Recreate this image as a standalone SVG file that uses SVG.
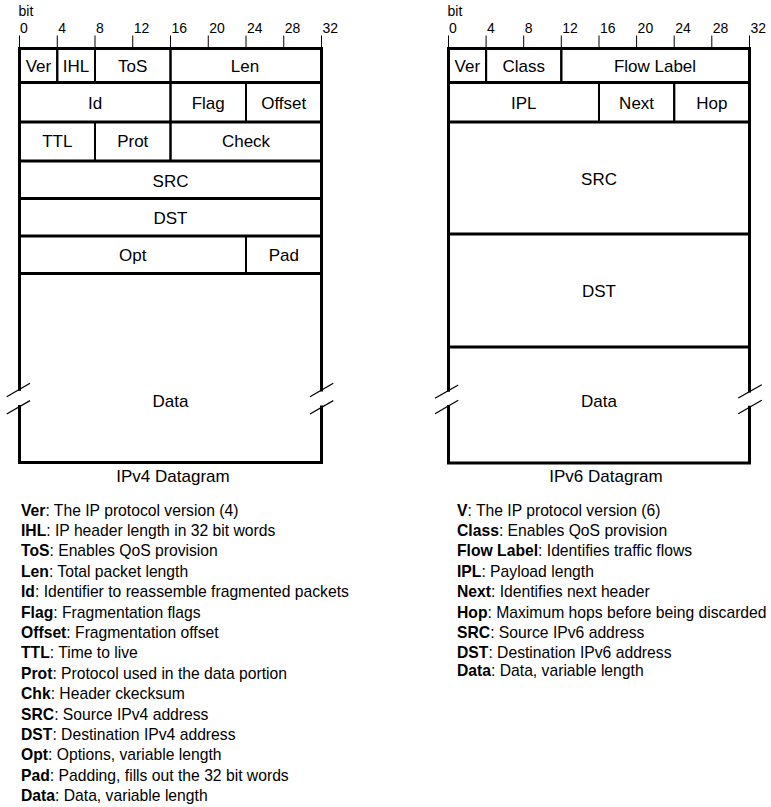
<svg xmlns="http://www.w3.org/2000/svg" width="771" height="807" viewBox="0 0 771 807">
<style>
text{font-family:"Liberation Sans",Arial,sans-serif;fill:#000}
.lbl{font-size:17px;text-anchor:middle}
.tick{font-size:14px}
.cap{font-size:17px;text-anchor:middle}
.leg{font-size:15.7px}
.leg tspan.b{font-weight:bold}
.cell{fill:none;stroke:#000;stroke-width:2}
.frame{fill:none;stroke:#000;stroke-width:3;stroke-linecap:square}
.tk{stroke:#000;stroke-width:1}
.brk{stroke:#000;stroke-width:1.3;fill:none}
</style>
<rect width="771" height="807" fill="#fff"/>

<!-- IPv4 scale -->
<g id="v4-scale">
<text class="tick" x="18.5" y="15.5">bit</text>
<g class="tk">
<line x1="19.5" y1="35.5" x2="19.5" y2="48.5"/><line x1="57.25" y1="35.5" x2="57.25" y2="48.5"/><line x1="95" y1="35.5" x2="95" y2="48.5"/><line x1="132.75" y1="35.5" x2="132.75" y2="48.5"/><line x1="170.5" y1="35.5" x2="170.5" y2="48.5"/><line x1="208.25" y1="35.5" x2="208.25" y2="48.5"/><line x1="246" y1="35.5" x2="246" y2="48.5"/><line x1="283.75" y1="35.5" x2="283.75" y2="48.5"/><line x1="321.5" y1="35.5" x2="321.5" y2="48.5"/>
</g>
<text class="tick" x="20" y="33">0</text><text class="tick" x="58.3" y="33">4</text><text class="tick" x="96" y="33">8</text><text class="tick" x="133.8" y="33">12</text><text class="tick" x="171.5" y="33">16</text><text class="tick" x="209.3" y="33">20</text><text class="tick" x="247" y="33">24</text><text class="tick" x="284.8" y="33">28</text><text class="tick" x="322.5" y="33">32</text>
</g>

<!-- IPv4 fields -->
<g id="v4-ver"><rect class="cell" x="19.5" y="48.5" width="37.75" height="34"/><text class="lbl" x="38.4" y="71.5">Ver</text></g>
<g id="v4-ihl"><rect class="cell" x="57.25" y="48.5" width="37.75" height="34"/><text class="lbl" x="76.1" y="71.5">IHL</text></g>
<g id="v4-tos"><rect class="cell" x="95" y="48.5" width="75.5" height="34"/><text class="lbl" x="132.75" y="71.5">ToS</text></g>
<g id="v4-len"><rect class="cell" x="170.5" y="48.5" width="151" height="34"/><text class="lbl" x="245" y="71.5">Len</text></g>
<g id="v4-id"><rect class="cell" x="19.5" y="82.5" width="151" height="39.5"/><text class="lbl" x="95" y="109">Id</text></g>
<g id="v4-flag"><rect class="cell" x="170.5" y="82.5" width="75.5" height="39.5"/><text class="lbl" x="208.25" y="109">Flag</text></g>
<g id="v4-offset"><rect class="cell" x="246" y="82.5" width="75.5" height="39.5"/><text class="lbl" x="283.75" y="109">Offset</text></g>
<g id="v4-ttl"><rect class="cell" x="19.5" y="122" width="75.5" height="39"/><text class="lbl" x="57.25" y="147">TTL</text></g>
<g id="v4-prot"><rect class="cell" x="95" y="122" width="75.5" height="39"/><text class="lbl" x="132.75" y="147">Prot</text></g>
<g id="v4-check"><rect class="cell" x="170.5" y="122" width="151" height="39"/><text class="lbl" x="246" y="147">Check</text></g>
<g id="v4-src"><rect class="cell" x="19.5" y="161" width="302" height="37.5"/><text class="lbl" x="170.5" y="187">SRC</text></g>
<g id="v4-dst"><rect class="cell" x="19.5" y="198.5" width="302" height="37.5"/><text class="lbl" x="170.5" y="223.5">DST</text></g>
<g id="v4-opt"><rect class="cell" x="19.5" y="236" width="226.5" height="37.5"/><text class="lbl" x="132.75" y="260.5">Opt</text></g>
<g id="v4-pad"><rect class="cell" x="246" y="236" width="75.5" height="37.5"/><text class="lbl" x="283.75" y="260.5">Pad</text></g>
<g id="v4-data">
<text class="lbl" x="170.5" y="406.5">Data</text>
<path class="brk" d="M6.7,396.7 L30,383.3 M6.7,414 L30,400.6 M310,396.7 L333.3,383.3 M310,414 L333.3,400.6"/>
</g>
<g id="v4-frame">
<path class="frame" d="M19.5,389.3 V48.5 H321.5 V390 M321.5,407 V462.5 H19.5 V406.6"/>
<path class="frame" d="M19.5,82.5 H321.5 M19.5,122 H321.5 M19.5,161 H321.5 M19.5,198.5 H321.5 M19.5,236 H321.5 M19.5,273.5 H321.5"/>
</g>
<text class="cap" x="173" y="481.5">IPv4 Datagram</text>

<!-- IPv6 scale -->
<g id="v6-scale">
<text class="tick" x="447.5" y="15.5">bit</text>
<g class="tk">
<line x1="448.5" y1="35.5" x2="448.5" y2="48.5"/><line x1="486.1" y1="35.5" x2="486.1" y2="48.5"/><line x1="523.7" y1="35.5" x2="523.7" y2="48.5"/><line x1="561.3" y1="35.5" x2="561.3" y2="48.5"/><line x1="599" y1="35.5" x2="599" y2="48.5"/><line x1="636.6" y1="35.5" x2="636.6" y2="48.5"/><line x1="674.2" y1="35.5" x2="674.2" y2="48.5"/><line x1="711.8" y1="35.5" x2="711.8" y2="48.5"/><line x1="749.5" y1="35.5" x2="749.5" y2="48.5"/>
</g>
<text class="tick" x="449" y="33">0</text><text class="tick" x="487.1" y="33">4</text><text class="tick" x="524.7" y="33">8</text><text class="tick" x="562.3" y="33">12</text><text class="tick" x="600" y="33">16</text><text class="tick" x="637.6" y="33">20</text><text class="tick" x="675.2" y="33">24</text><text class="tick" x="712.8" y="33">28</text><text class="tick" x="750.5" y="33">32</text>
</g>

<!-- IPv6 fields -->
<g id="v6-ver"><rect class="cell" x="448.5" y="48.5" width="37.6" height="34"/><text class="lbl" x="467.3" y="71.5">Ver</text></g>
<g id="v6-class"><rect class="cell" x="486.1" y="48.5" width="75.2" height="34"/><text class="lbl" x="523.7" y="71.5">Class</text></g>
<g id="v6-flow"><rect class="cell" x="561.3" y="48.5" width="188.2" height="34"/><text class="lbl" x="655" y="71.5">Flow Label</text></g>
<g id="v6-ipl"><rect class="cell" x="448.5" y="82.5" width="150.5" height="39.5"/><text class="lbl" x="523.7" y="109">IPL</text></g>
<g id="v6-next"><rect class="cell" x="599" y="82.5" width="75.2" height="39.5"/><text class="lbl" x="636.6" y="109">Next</text></g>
<g id="v6-hop"><rect class="cell" x="674.2" y="82.5" width="75.3" height="39.5"/><text class="lbl" x="711.8" y="109">Hop</text></g>
<g id="v6-src"><rect class="cell" x="448.5" y="122" width="301" height="112"/><text class="lbl" x="599" y="184.5">SRC</text></g>
<g id="v6-dst"><rect class="cell" x="448.5" y="234" width="301" height="113"/><text class="lbl" x="599" y="296.5">DST</text></g>
<g id="v6-data">
<text class="lbl" x="599" y="406.5">Data</text>
<path class="brk" d="M435,398.3 L458.3,385 M435,413.7 L458.3,400.3 M738.3,398 L761.7,384.7 M738.3,413.7 L761.7,400.3"/>
</g>
<g id="v6-frame">
<path class="frame" d="M448.5,390.3 V48.5 H749.5 V391 M749.5,407.3 V463 H448.5 V406.4"/>
<path class="frame" d="M448.5,82.5 H749.5 M448.5,122 H749.5 M448.5,234 H749.5 M448.5,347 H749.5"/>
</g>
<text class="cap" x="606" y="481.5">IPv6 Datagram</text>

<!-- Legends -->
<g id="v4-legend" class="leg">
<text x="21" y="515.5"><tspan class="b">Ver</tspan>: The IP protocol version (4)</text>
<text x="21" y="535.9"><tspan class="b">IHL</tspan>: IP header length in 32 bit words</text>
<text x="21" y="556.3"><tspan class="b">ToS</tspan>: Enables QoS provision</text>
<text x="21" y="576.7"><tspan class="b">Len</tspan>: Total packet length</text>
<text x="21" y="597.1"><tspan class="b">Id</tspan>: Identifier to reassemble fragmented packets</text>
<text x="21" y="617.5"><tspan class="b">Flag</tspan>: Fragmentation flags</text>
<text x="21" y="637.9"><tspan class="b">Offset</tspan>: Fragmentation offset</text>
<text x="21" y="658.3"><tspan class="b">TTL</tspan>: Time to live</text>
<text x="21" y="678.7"><tspan class="b">Prot</tspan>: Protocol used in the data portion</text>
<text x="21" y="699.1"><tspan class="b">Chk</tspan>: Header ckecksum</text>
<text x="21" y="719.5"><tspan class="b">SRC</tspan>: Source IPv4 address</text>
<text x="21" y="739.9"><tspan class="b">DST</tspan>: Destination IPv4 address</text>
<text x="21" y="760.3"><tspan class="b">Opt</tspan>: Options, variable length</text>
<text x="21" y="780.7"><tspan class="b">Pad</tspan>: Padding, fills out the 32 bit words</text>
<text x="21" y="801.1"><tspan class="b">Data</tspan>: Data, variable length</text>
</g>
<g id="v6-legend" class="leg">
<text x="457" y="515.5"><tspan class="b">V</tspan>: The IP protocol version (6)</text>
<text x="457" y="535.9"><tspan class="b">Class</tspan>: Enables QoS provision</text>
<text x="457" y="556.3"><tspan class="b">Flow Label</tspan>: Identifies traffic flows</text>
<text x="457" y="576.7"><tspan class="b">IPL</tspan>: Payload length</text>
<text x="457" y="597.1"><tspan class="b">Next</tspan>: Identifies next header</text>
<text x="457" y="617.5"><tspan class="b">Hop</tspan>: Maximum hops before being discarded</text>
<text x="457" y="637.9"><tspan class="b">SRC</tspan>: Source IPv6 address</text>
<text x="457" y="658.3"><tspan class="b">DST</tspan>: Destination IPv6 address</text>
<text x="457" y="675.5"><tspan class="b">Data</tspan>: Data, variable length</text>
</g>
</svg>
